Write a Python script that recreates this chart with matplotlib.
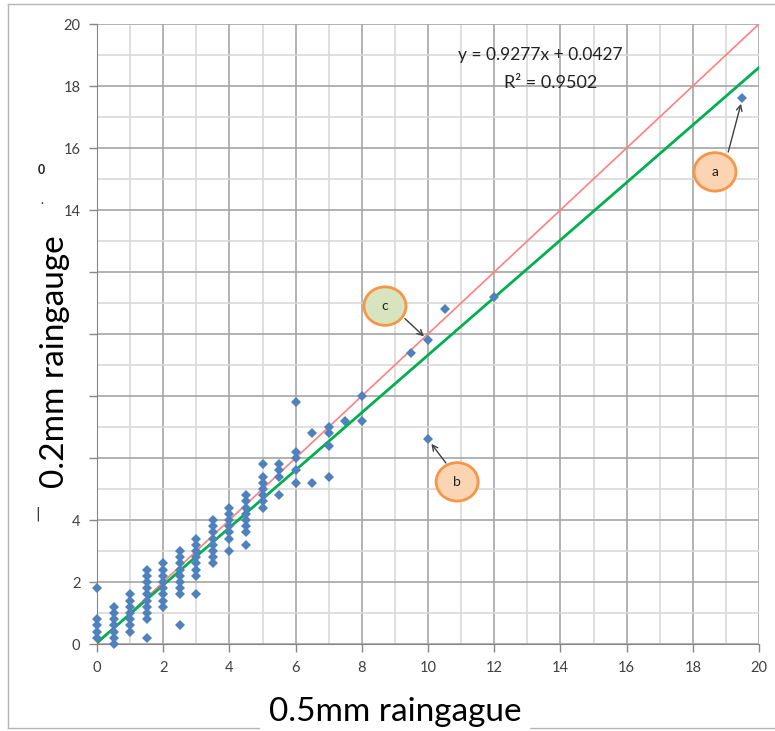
import matplotlib
matplotlib.use("Agg")
import matplotlib.pyplot as plt
from matplotlib.patches import Ellipse
from matplotlib.lines import Line2D
import numpy as np

plt.rcParams['font.family'] = ['Lato', 'DejaVu Sans']

# data: 0.5mm gauge (x) vs 0.2mm gauge (y), grouped by x value
cols_x = [0, 0.5, 1, 1.5, 2, 2.5, 3, 3.5, 4, 4.5, 5, 5.5, 6, 6.5, 7, 7.5, 8,
          9.5, 10, 10.5, 12, 19.5]
cols_y = [
    [0.2, 0.4, 0.6, 0.8, 1.8],
    [0.0, 0.2, 0.4, 0.6, 0.8, 1.0, 1.2],
    [0.4, 0.6, 0.8, 1.0, 1.2, 1.4, 1.6],
    [0.2, 0.8, 1.0, 1.2, 1.4, 1.6, 1.8, 2.0, 2.2, 2.4],
    [1.2, 1.4, 1.6, 1.8, 2.0, 2.2, 2.4, 2.6],
    [0.6, 1.6, 1.8, 2.0, 2.2, 2.4, 2.6, 2.8, 3.0],
    [1.6, 2.2, 2.4, 2.6, 2.8, 3.0, 3.2, 3.4],
    [2.6, 2.8, 3.0, 3.2, 3.4, 3.6, 3.8, 4.0],
    [3.0, 3.4, 3.6, 3.8, 4.0, 4.2, 4.4],
    [3.2, 3.6, 3.8, 4.0, 4.2, 4.4, 4.6, 4.8],
    [4.4, 4.6, 4.8, 5.0, 5.2, 5.4, 5.8],
    [4.8, 5.4, 5.6, 5.8],
    [5.2, 5.6, 6.0, 6.2, 7.8],
    [5.2, 6.8],
    [5.4, 6.4, 6.8, 7.0],
    [7.2],
    [7.2, 8.0],
    [9.4],
    [6.6, 9.8],
    [10.8],
    [11.2],
    [17.6],
]
slope = 0.9277
intercept = 0.0427
r2 = 0.9502

# y tick labels; the ones behind the axis title are not shown in the original
y_ticks = list(range(0, 21, 2))
y_ticklabels = ['0', '2', '4', '', '', '', '', '14', '16', '18', '20']

# labelled points: letter, point x, point y, fill colour
flag_names = ['a', 'b', 'c']
flag_pts = [(19.5, 17.6), (10, 6.6), (10, 9.8)]
flag_fill = ['#fbd4b4', '#fbd4b4', '#d7e4bd']
flag_pos = [(18.67, 15.23), (10.88, 5.23), (8.70, 10.9)]
flag_tail = [(19.07, 15.87), (10.54, 5.84), (9.30, 10.5)]

xs = [x for x, ys in zip(cols_x, cols_y) for _ in ys]
ys = [y for col in cols_y for y in col]

fig = plt.figure(figsize=(7.75, 7.31), dpi=100)
ax = fig.add_axes([97 / 775, 87 / 731, 662 / 775, 620 / 731])

ax.set_xlim(0, 20)
ax.set_ylim(0, 20)
ax.set_xticks(np.arange(0, 21, 2))
ax.set_yticks(y_ticks)
ax.set_yticklabels(y_ticklabels)
ax.set_xticks(np.arange(1, 20, 2), minor=True)
ax.set_yticks(np.arange(1, 20, 2), minor=True)
ax.grid(True, which='major', color='#a6a6a6', lw=1.2)
ax.grid(True, which='minor', color='#d9d9d9', lw=1.2)
ax.set_axisbelow(True)
ax.tick_params(which='major', direction='out', length=6, width=1,
               color='#868686', labelsize=10.5, labelcolor='#404040', pad=6)
ax.tick_params(which='minor', length=0)
for s in ['top', 'right']:
    ax.spines[s].set_visible(False)
for s in ['left', 'bottom']:
    ax.spines[s].set_color('#868686')

line_x = np.array([0, 20])
ax.plot(line_x, line_x, color='#ff8080', lw=1.2, zorder=3)
ax.plot(line_x, slope * line_x + intercept, color='#00b050', lw=2, zorder=3)
ax.plot(xs, ys, 'D', color='#4f81bd', markersize=5.2, markeredgewidth=0,
        zorder=4, clip_on=False)

ax.text(13.4, 19.0, f'y = {slope}x + {intercept}', ha='center', va='center',
        fontsize=12.5, color='#222222')
ax.text(13.7, 18.1, f'R² = {r2}', ha='center', va='center',
        fontsize=13, color='#222222')

for name, pt, fill, pos, tail in zip(flag_names, flag_pts, flag_fill, flag_pos, flag_tail):
    ax.annotate('', xy=pt, xytext=tail,
                arrowprops=dict(arrowstyle='->', color='#404040', lw=1,
                                shrinkA=0, shrinkB=4), zorder=5)
    ax.add_patch(Ellipse(pos, 1.27, 1.24, facecolor=fill, edgecolor='#f79646',
                         lw=2, zorder=6))
    ax.text(pos[0], pos[1], name, ha='center', va='center', fontsize=10,
            color='#222222', zorder=7)

# outer chart frame
for xd, yd in [([8, 8], [4, 728]), ([8, 775], [4, 4]), ([8, 775], [728, 728])]:
    fig.add_artist(Line2D([v / 775 for v in xd], [1 - v / 731 for v in yd],
                          color='#b5b5b5', lw=1))

fig.text(395 / 775, 1 - 712 / 731, '0.5mm raingague', ha='center', va='center',
         fontsize=24, color='black',
         bbox=dict(facecolor='white', edgecolor='none', pad=6))
fig.text(55 / 775, 1 - 362 / 731, '0.2mm raingauge', ha='center', va='center',
         rotation=90, fontsize=24, color='black',
         bbox=dict(facecolor='white', edgecolor='none', pad=6))

# stray marks left over beside the axis title
fig.text(41 / 775, 1 - 170 / 731, '0', ha='center', va='center', fontsize=9,
         fontweight='bold', color='#222222')
fig.text(42 / 775, 1 - 200 / 731, '.', ha='center', va='center', fontsize=9,
         color='#222222')
fig.text(38 / 775, 1 - 514 / 731, '|', ha='center', va='center', fontsize=10,
         family='DejaVu Sans', color='#222222')

fig.savefig('out.png', dpi=100)
